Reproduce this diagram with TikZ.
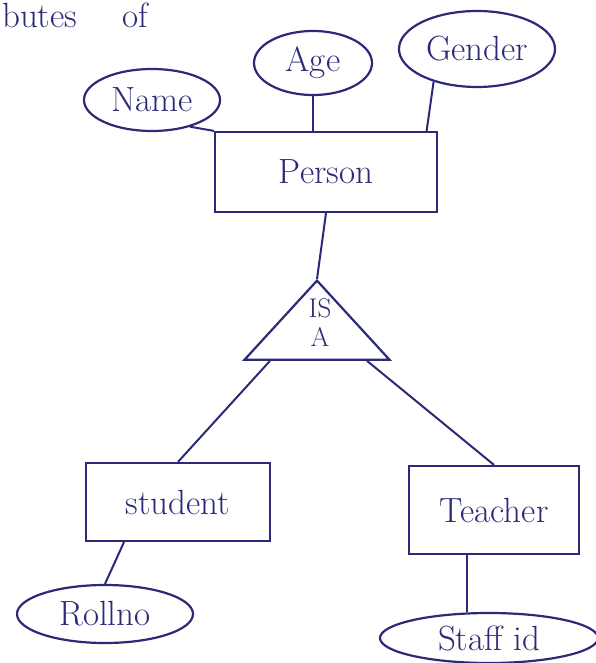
\documentclass[tikz,border=0pt]{standalone}
\usepackage{fontspec}
\setmainfont{Latin Modern Roman}
\usetikzlibrary{shapes.geometric}
\definecolor{ink}{HTML}{2B2A78}
\begin{document}
\begin{tikzpicture}[x=1pt,y=-1pt,
  every node/.style={text=ink, font=\fontsize{35}{38}\selectfont},
  entity/.style={draw=ink, line width=2.2pt, rectangle, inner sep=0pt},
  attr/.style={draw=ink, line width=2.2pt, ellipse, inner sep=0pt},
  isa/.style={draw=ink, line width=2.2pt, isosceles triangle, shape border rotate=90,
    isosceles triangle apex angle=85, inner sep=0pt, minimum height=74pt, minimum width=145pt},
  link/.style={draw=ink, line width=2pt}]
\useasboundingbox (0,0) rectangle (596,663);

% heading fragment
\node[anchor=north west, inner sep=0pt] (head) at (2,3) {butes \quad of};

% entities
\node[entity, minimum width=222pt, minimum height=80pt] (person) at (326,172) {Person};
\node[entity, minimum width=184pt, minimum height=78pt] (student) at (178,502) {student};
\node[entity, minimum width=170pt, minimum height=88pt] (teacher) at (494,510) {Teacher};

% attributes
\node[attr, minimum width=136pt, minimum height=62pt] (name) at (152,100) {Name};
\node[attr, minimum width=118pt, minimum height=64pt] (age) at (313,63) {Age};
\node[attr, minimum width=156pt, minimum height=76pt] (gender) at (477,49) {Gender};
\node[attr, minimum width=176pt, minimum height=58pt] (roll) at (105,614) {Rollno};
\node[attr, minimum width=218pt, minimum height=50pt] (staff) at (489,638) {Staff id};

% generalisation triangle
\node[isa, anchor=apex] (tri) at (317,279) {};
\node[align=center, font=\fontsize{27}{29}\selectfont] (isatext) at (320,323) {IS\\A};

% connectors
\draw[link] (name.-35) -- (person.north west);
\draw[link] (age.south) -- (age.south |- person.north);
\draw[link] (gender.-143) -- ([xshift=-7pt]gender.-143 |- person.north);
\draw[link] (person.south) -- (tri.apex);
\draw[link] (tri.left corner) ++(28,0) coordinate (tl) -- (student.north);
\draw[link] (tri.right corner) ++(-25,0) coordinate (tr) -- (teacher.north);
\draw[link] (student.south) ++(-54,0) coordinate (sf) -- (roll.north);
\draw[link] (teacher.south) ++(-27,0) coordinate (tf) -- (tf |- staff.north);
\end{tikzpicture}
\end{document}
